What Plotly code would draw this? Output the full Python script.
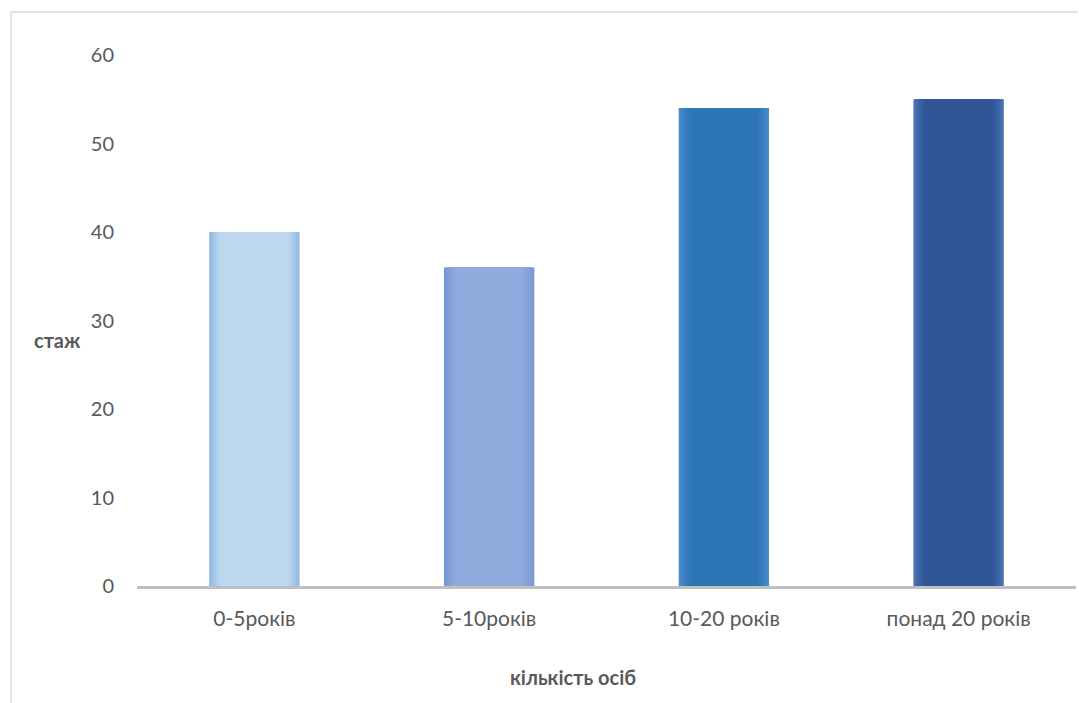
import plotly.graph_objects as go

categories = ["0-5років", "5-10років", "10-20 років", "понад 20 років"]
values = [40, 36, 54, 55]

# each bar gets a soft-edged look: edge colour outside, centre colour inside
edge_colors = ["#8DB8E4", "#7497D6", "#4C8DCD", "#4B75B4"]
center_colors = ["#BDD7EE", "#8FAADC", "#2E75B6", "#2F5597"]

FONT = "Lato, Carlito, Calibri, sans-serif"
TEXT = "#595959"


def blend(c1, c2, t):
    a = [int(c1[i:i + 2], 16) for i in (1, 3, 5)]
    b = [int(c2[i:i + 2], 16) for i in (1, 3, 5)]
    return "#" + "".join(f"{round(x + (y - x) * t):02X}" for x, y in zip(a, b))


fig = go.Figure()
steps = 8
outer_w, inner_w = 0.385, 0.29
for k in range(steps):
    t = k / (steps - 1)
    width = outer_w - (outer_w - inner_w) * t
    colors = [blend(e, c, t ** 0.8) for e, c in zip(edge_colors, center_colors)]
    fig.add_trace(go.Bar(
        x=categories, y=values, width=width,
        marker=dict(color=colors, line=dict(width=0)),
        hoverinfo="x+y" if k == 0 else "skip", showlegend=False,
    ))

fig.update_layout(
    width=1079, height=703,
    margin=dict(l=137, r=3, t=55, b=117),
    barmode="overlay",
    paper_bgcolor="white", plot_bgcolor="white",
    font=dict(family=FONT, color=TEXT, size=21),
    xaxis=dict(
        showline=True, linecolor="#BFBFBF", linewidth=3,
        showgrid=False, ticks="", ticklabelstandoff=12,
        tickfont=dict(size=21, color=TEXT),
    ),
    yaxis=dict(
        range=[0, 60], dtick=10, showgrid=False, zeroline=False,
        showline=False, ticks="", ticklabelstandoff=22,
        tickfont=dict(size=20, color=TEXT),
    ),
    shapes=[
        dict(type="line", xref="paper", yref="paper",
             x0=(11 - 137) / 939, x1=(1078 - 137) / 939,
             y0=(703 - 12 - 117) / 531, y1=(703 - 12 - 117) / 531,
             line=dict(color="#D9D9D9", width=1.5)),
        dict(type="line", xref="paper", yref="paper",
             x0=(11 - 137) / 939, x1=(11 - 137) / 939,
             y0=(703 - 12 - 117) / 531, y1=-117 / 531,
             line=dict(color="#D9D9D9", width=1.5)),
    ],
    annotations=[
        dict(text="<b>стаж</b>", xref="paper", yref="paper",
             x=(57 - 137) / 939, y=(586 - 340) / 531,
             xanchor="center", yanchor="middle", showarrow=False,
             font=dict(size=20, color=TEXT, family=FONT)),
        dict(text="<b>кількість осіб</b>", xref="paper", yref="paper",
             x=(573 - 137) / 939, y=(586 - 677) / 531,
             xanchor="center", yanchor="middle", showarrow=False,
             font=dict(size=20, color=TEXT, family=FONT)),
    ],
)

fig.write_html("out.html")
